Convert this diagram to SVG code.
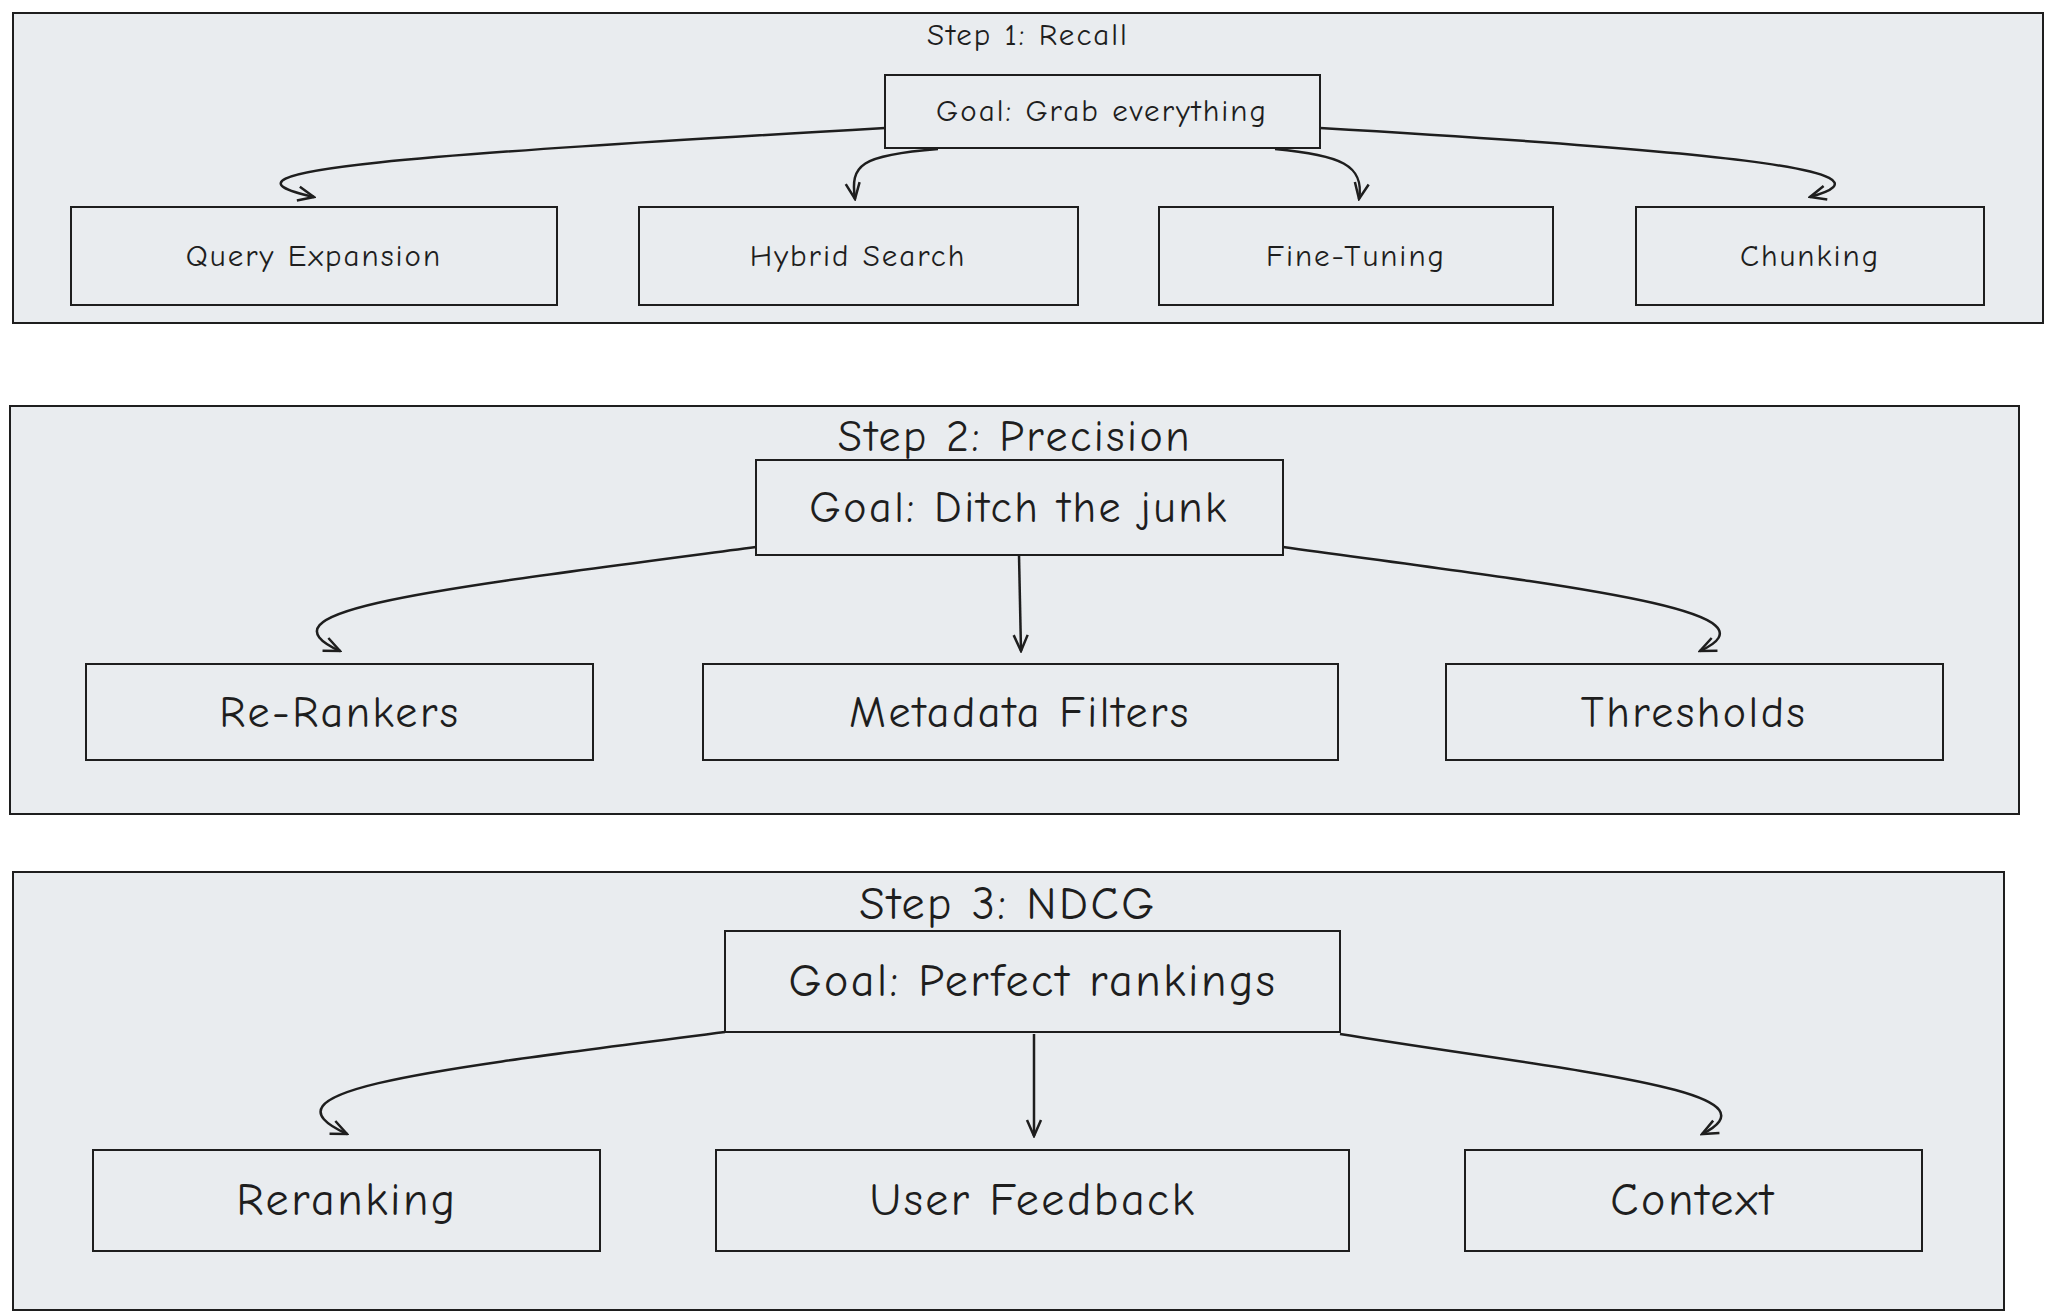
<svg xmlns="http://www.w3.org/2000/svg" width="2048" height="1316" viewBox="0 0 2048 1316">
<style>
.p{fill:#e9ecef;stroke:#1e1e1e;stroke-width:2}
.b{fill:#e9ecef;stroke:#1e1e1e;stroke-width:2}
text{font-family:"Comic Neue","Liberation Sans",sans-serif;fill:#1e1e1e;text-anchor:middle;dominant-baseline:central}
.s{font-size:31px;letter-spacing:2px}.m{font-size:44px;letter-spacing:2.5px}.l{font-size:46px;letter-spacing:2.5px}
.c{fill:none;stroke:#1e1e1e;stroke-width:2.5;marker-end:url(#a)}
</style>
<defs><marker id="a" viewBox="0 0 20 20" refX="18" refY="10" markerWidth="20" markerHeight="20" markerUnits="userSpaceOnUse" orient="auto"><path d="M2,3 L18,10 L2,17" fill="none" stroke="#1e1e1e" stroke-width="2.5"/></marker></defs>
<rect class="p" x="13" y="13" width="2030" height="310"/>
<rect class="p" x="10" y="406" width="2009" height="408"/>
<rect class="p" x="13" y="872" width="1991" height="438"/>
<text class="s" x="1028" y="35">Step 1: Recall</text>
<text class="m" x="1015" y="436">Step 2: Precision</text>
<text class="l" x="1008" y="904">Step 3: NDCG</text>
<g id="connectors">
<path class="c" d="M885,128 C420,155 190,170 314,197"/>
<path class="c" d="M938,149 C860,155 850,165 855,199"/>
<path class="c" d="M1275,149 C1340,155 1365,165 1359,199"/>
<path class="c" d="M1320,128 C1700,150 1910,170 1810,197"/>
<path class="c" d="M756,547 C430,590 250,610 340,651"/>
<path class="c" d="M1019,555 L1021,651"/>
<path class="c" d="M1283,547 C1560,585 1790,610 1700,651"/>
<path class="c" d="M725,1032 C430,1070 250,1090 347,1134"/>
<path class="c" d="M1034,1034 L1034,1136"/>
<path class="c" d="M1340,1034 C1560,1070 1790,1090 1702,1134"/>
</g>
<g id="g1"><rect class="b" x="885" y="75" width="435" height="73"/><text class="s" x="1102" y="111">Goal: Grab everything</text></g>
<g id="n1"><rect class="b" x="71" y="207" width="486" height="98"/><text class="s" x="314" y="256">Query Expansion</text></g>
<g id="n2"><rect class="b" x="639" y="207" width="439" height="98"/><text class="s" x="858" y="256">Hybrid Search</text></g>
<g id="n3"><rect class="b" x="1159" y="207" width="394" height="98"/><text class="s" x="1356" y="256">Fine-Tuning</text></g>
<g id="n4"><rect class="b" x="1636" y="207" width="348" height="98"/><text class="s" x="1810" y="256">Chunking</text></g>
<g id="g2"><rect class="b" x="756" y="460" width="527" height="95"/><text class="m" x="1019" y="507">Goal: Ditch the junk</text></g>
<g id="n5"><rect class="b" x="86" y="664" width="507" height="96"/><text class="m" x="340" y="712">Re-Rankers</text></g>
<g id="n6"><rect class="b" x="703" y="664" width="635" height="96"/><text class="m" x="1020" y="712">Metadata Filters</text></g>
<g id="n7"><rect class="b" x="1446" y="664" width="497" height="96"/><text class="m" x="1694" y="712">Thresholds</text></g>
<g id="g3"><rect class="b" x="725" y="931" width="615" height="101"/><text class="l" x="1033" y="981">Goal: Perfect rankings</text></g>
<g id="n8"><rect class="b" x="93" y="1150" width="507" height="101"/><text class="l" x="347" y="1200">Reranking</text></g>
<g id="n9"><rect class="b" x="716" y="1150" width="633" height="101"/><text class="l" x="1033" y="1200">User Feedback</text></g>
<g id="n10"><rect class="b" x="1465" y="1150" width="457" height="101"/><text class="l" x="1693" y="1200">Context</text></g>
</svg>
